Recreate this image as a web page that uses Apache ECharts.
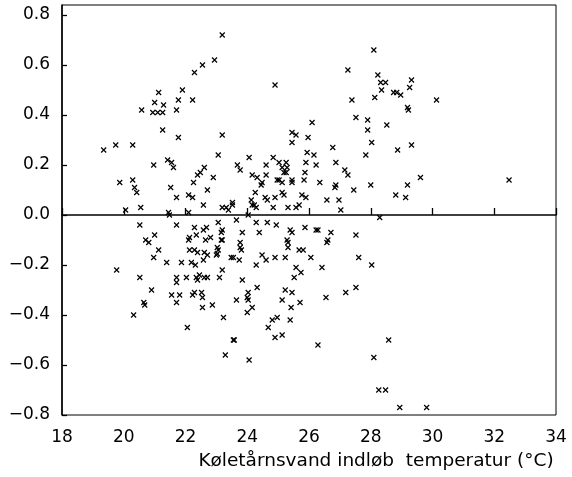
<!DOCTYPE html>
<html>
<head>
<meta charset="utf-8">
<script src="https://cdn.jsdelivr.net/npm/echarts@6/dist/echarts.min.js"></script>
<style>
  html, body { margin: 0; padding: 0; background: #fff; }
  #chart { width: 572px; height: 477px; }
</style>
</head>
<body>
<div id="chart"></div>
<script>
// [temperature °C, deviation], grouped by region
let upperLeft = [
  [21.13, 0.49], [21.00, 0.45], [21.77, 0.46], [21.29, 0.44], [20.58, 0.42], [20.94, 0.41],
  [21.10, 0.41], [21.26, 0.41], [21.71, 0.42], [21.26, 0.34], [21.77, 0.31], [19.35, 0.26],
  [19.74, 0.28], [20.29, 0.28]
];
let upperMid = [
  [23.19, 0.72], [22.94, 0.62], [22.55, 0.60], [22.29, 0.57], [21.90, 0.50], [22.23, 0.46],
  [24.90, 0.52], [27.26, 0.58], [27.39, 0.46], [27.52, 0.39], [27.90, 0.38], [26.10, 0.37],
  [27.90, 0.34], [25.45, 0.33], [25.58, 0.32], [25.45, 0.29], [25.97, 0.31], [23.19, 0.32],
  [26.77, 0.27]
];
let upperRight = [
  [28.10, 0.66], [28.23, 0.56], [28.32, 0.53], [28.48, 0.53], [28.35, 0.50], [28.13, 0.47],
  [28.74, 0.49], [28.84, 0.49], [28.97, 0.48], [29.32, 0.54], [29.26, 0.51], [29.19, 0.43],
  [29.22, 0.42], [30.13, 0.46], [28.52, 0.36], [28.03, 0.29], [28.87, 0.26], [29.32, 0.28]
];
let middleLeft = [
  [20.97, 0.20], [21.42, 0.22], [21.55, 0.21], [21.61, 0.19], [19.87, 0.13], [20.29, 0.14],
  [20.35, 0.11], [20.42, 0.09], [21.52, 0.11], [21.71, 0.07], [20.06, 0.02], [20.55, 0.03],
  [21.45, 0.01], [21.48, 0.00], [20.52, -0.04], [21.71, -0.04], [21.00, -0.08], [20.71, -0.10],
  [20.81, -0.11], [21.13, -0.14], [20.97, -0.17], [21.39, -0.19], [19.77, -0.22], [20.52, -0.25],
  [21.71, -0.25], [21.71, -0.27], [20.90, -0.30], [21.55, -0.32], [21.71, -0.35], [20.65, -0.35],
  [20.68, -0.36], [22.03, -0.25], [21.81, -0.32]
];
let middleMid = [
  [23.06, 0.24], [24.06, 0.23], [24.84, 0.23], [25.03, 0.21], [25.26, 0.21], [25.29, 0.19],
  [25.94, 0.25], [26.16, 0.24], [27.84, 0.24], [26.87, 0.21], [25.90, 0.21], [26.23, 0.20],
  [24.61, 0.20], [23.68, 0.20], [23.77, 0.18], [22.61, 0.19], [22.48, 0.17], [22.39, 0.16],
  [22.90, 0.15], [24.16, 0.16], [24.32, 0.15], [24.48, 0.13], [24.45, 0.12], [24.61, 0.16],
  [25.13, 0.19], [25.19, 0.17], [25.26, 0.17], [24.97, 0.14], [25.03, 0.14], [25.13, 0.13],
  [25.45, 0.14], [25.45, 0.13], [25.87, 0.17], [25.84, 0.14], [26.35, 0.13], [27.16, 0.18],
  [27.26, 0.16], [26.87, 0.12], [26.84, 0.11], [27.45, 0.10], [22.26, 0.13], [22.71, 0.10],
  [22.10, 0.08], [22.23, 0.07], [22.58, 0.04], [23.19, 0.03], [23.32, 0.03], [23.52, 0.05],
  [23.52, 0.04], [23.39, 0.02], [24.26, 0.09], [24.13, 0.06], [24.16, 0.04], [24.23, 0.04],
  [24.29, 0.03], [24.58, 0.07], [24.65, 0.06], [24.90, 0.07], [25.13, 0.09], [25.19, 0.08],
  [24.84, 0.03], [25.32, 0.03], [25.68, 0.04], [25.58, 0.03], [25.77, 0.08], [25.90, 0.07],
  [26.58, 0.06], [26.97, 0.06], [27.03, 0.02], [22.10, 0.01], [23.65, -0.02], [24.03, 0.00],
  [24.29, -0.03], [24.65, -0.03], [24.94, -0.04], [22.29, -0.05], [22.68, -0.05], [22.58, -0.06],
  [22.35, -0.08], [23.06, -0.03], [23.19, -0.06], [23.16, -0.07], [22.13, -0.09], [22.10, -0.10],
  [22.81, -0.09], [22.65, -0.10], [23.16, -0.10], [23.19, -0.10], [23.84, -0.07], [24.39, -0.07],
  [25.39, -0.06], [25.45, -0.07], [25.29, -0.10], [25.32, -0.13], [25.32, -0.11], [25.87, -0.05],
  [26.23, -0.06], [26.29, -0.06], [26.61, -0.10], [26.58, -0.11], [26.71, -0.07], [27.52, -0.08],
  [23.77, -0.11], [23.77, -0.13], [23.81, -0.14], [22.13, -0.14], [22.29, -0.14], [22.39, -0.15],
  [22.61, -0.15], [23.03, -0.13], [23.06, -0.14], [23.00, -0.16], [23.03, -0.155], [22.71, -0.16],
  [23.48, -0.17], [23.55, -0.17], [23.74, -0.18], [24.48, -0.16], [24.61, -0.18], [24.90, -0.17],
  [25.23, -0.17], [25.68, -0.14], [25.81, -0.14], [26.06, -0.17], [27.61, -0.17], [21.87, -0.19],
  [22.19, -0.19], [22.32, -0.20], [22.58, -0.18], [24.29, -0.20], [25.58, -0.21], [25.74, -0.23],
  [25.52, -0.25], [26.42, -0.21], [28.03, -0.20], [22.35, -0.25], [22.45, -0.24], [22.61, -0.25],
  [22.71, -0.25], [22.39, -0.26], [23.10, -0.25], [23.19, -0.22], [23.84, -0.26], [24.32, -0.29],
  [25.23, -0.30], [25.45, -0.31], [27.52, -0.29], [27.19, -0.31], [26.55, -0.33], [22.23, -0.32],
  [22.29, -0.31], [22.52, -0.31], [22.55, -0.33], [23.65, -0.34], [24.00, -0.33], [24.03, -0.31],
  [24.03, -0.34], [22.87, -0.36], [22.55, -0.37], [24.16, -0.37], [25.13, -0.34], [25.42, -0.37],
  [25.71, -0.35]
];
let middleRight = [
  [29.61, 0.15], [29.19, 0.12], [28.00, 0.12], [28.81, 0.08], [29.13, 0.07], [32.48, 0.14],
  [28.29, -0.01]
];
let lower = [
  [20.32, -0.40], [22.06, -0.45], [23.23, -0.41], [24.00, -0.39], [23.55, -0.50], [23.58, -0.50],
  [23.29, -0.56], [24.06, -0.58], [24.81, -0.42], [24.97, -0.41], [24.68, -0.45], [24.90, -0.49],
  [25.13, -0.48], [25.39, -0.42], [26.29, -0.52], [28.58, -0.50], [28.10, -0.57], [28.26, -0.70],
  [28.48, -0.70], [28.94, -0.77], [29.81, -0.77]
];

let xTicks = [18, 20, 22, 24, 26, 28, 30, 32, 34];
let yTicks = [-0.8, -0.6, -0.4, -0.2, 0.0, 0.2, 0.4, 0.6, 0.8];
let xTitle = 'Køletårnsvand indløb  temperatur (°C)';

let points = [].concat(upperLeft, upperMid, upperRight, middleLeft, middleMid, middleRight, lower);

let chart = echarts.init(document.getElementById('chart'));
let labelFont = { color: '#000', fontSize: 17, fontFamily: 'DejaVu Sans' };

chart.setOption({
  animation: false,
  grid: { left: 62, right: 16, top: 5, bottom: 62, show: true, borderColor: '#000', borderWidth: 1 },
  xAxis: {
    type: 'value',
    min: xTicks[0], max: xTicks[xTicks.length - 1], interval: 2,
    splitLine: { show: false },
    axisLine: { lineStyle: { color: '#000', width: 1.5 } },
    axisTick: { inside: true, length: 7, lineStyle: { color: '#000', width: 1.3 } },
    axisLabel: Object.assign({ margin: 14 }, labelFont),
    name: xTitle,
    nameLocation: 'middle',
    nameGap: 37,
    nameMoveOverlap: false,
    nameTextStyle: { color: '#000', fontSize: 18.5, fontFamily: 'DejaVu Sans', padding: [0, 0, 0, 134] }
  },
  yAxis: {
    type: 'value',
    min: yTicks[0], max: 0.84, interval: 0.2,
    splitLine: { show: false },
    axisLine: { lineStyle: { color: '#000', width: 1.5 } },
    axisTick: { inside: true, length: 5, lineStyle: { color: '#000', width: 1.3 } },
    axisLabel: Object.assign({
      margin: 12,
      showMaxLabel: false,
      formatter: function (v) { return v.toFixed(1).replace('-', '\u2212'); }
    }, labelFont)
  },
  series: [{
    type: 'scatter',
    data: points,
    symbol: 'path://M0,0L10,10M10,0L0,10',
    symbolSize: 5,
    itemStyle: { color: 'rgba(0,0,0,0)', borderColor: '#000', borderWidth: 1.2, opacity: 1 }
  }]
});
</script>
</body>
</html>
